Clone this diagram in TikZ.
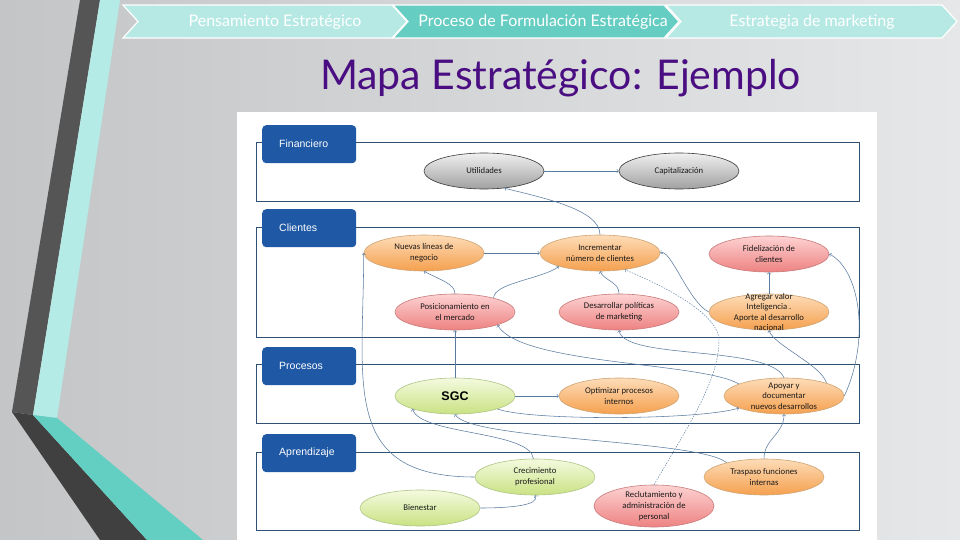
\documentclass[tikz,border=0pt]{standalone}
\usepackage{fontspec}
\setmainfont{Carlito}
\newfontfamily\latofont{Lato}
\newfontfamily\arialfont{Liberation Sans}
\usepackage{tikz}
\usetikzlibrary{shapes.geometric}

\definecolor{bgL}{HTML}{C3C5C6}
\definecolor{bgR}{HTML}{E6E7E8}
\definecolor{bandA}{HTML}{555555}
\definecolor{bandB}{HTML}{404040}
\definecolor{bandC}{HTML}{B4EBE6}
\definecolor{bandD}{HTML}{63CFC3}
\definecolor{crumbL}{HTML}{B6E9E4}
\definecolor{crumbD}{HTML}{66CDC2}
\definecolor{ttl}{HTML}{4A0E82}
\definecolor{tagblue}{HTML}{1F58A4}
\definecolor{laneline}{HTML}{2F5274}
\definecolor{conline}{HTML}{5A7CA0}
\definecolor{gry1}{HTML}{F0F0F0}
\definecolor{gry2}{HTML}{A0A0A0}
\definecolor{gryline}{HTML}{3A3A3A}
\definecolor{org1}{HTML}{FDDCB8}
\definecolor{org2}{HTML}{F5A04E}
\definecolor{orgline}{HTML}{CFA574}
\definecolor{pnk1}{HTML}{FDD2D2}
\definecolor{pnk2}{HTML}{EE8282}
\definecolor{pnkline}{HTML}{C97B7B}
\definecolor{grn1}{HTML}{F4FADF}
\definecolor{grn2}{HTML}{C9E283}
\definecolor{grnline}{HTML}{AEC684}

\begin{document}
\begin{tikzpicture}[x=1pt,y=-1pt,
  bub/.style={ellipse,minimum width=120pt,minimum height=36pt,inner sep=0pt,align=center,text=black!90,font=\fontsize{8.7}{11}\selectfont,line width=0.6pt},
  gry/.style={bub,draw=gryline,top color=gry1,bottom color=gry2},
  org/.style={bub,draw=orgline,top color=org1,bottom color=org2},
  pnk/.style={bub,draw=pnkline,top color=pnk1,bottom color=pnk2},
  grn/.style={bub,draw=grnline,top color=grn1,bottom color=grn2},
  lbl/.style={align=center,text=black!90,font=\fontsize{8.7}{10.5}\selectfont},
  tag/.style={rectangle,rounded corners=4pt,fill=tagblue,text=white,anchor=north west,minimum width=94pt,minimum height=38pt,text width=60pt,inner xsep=17pt,align=left,font=\arialfont\fontsize{10.5}{12}\selectfont},
  lane/.style={draw=laneline,line width=1pt},
  con/.style={->,draw=conline,line width=0.55pt},
  dsh/.style={con,dash pattern=on 1.5pt off 1.2pt,line width=0.45pt},
  crumb/.style={font=\latofont\fontsize{16}{18}\selectfont,text=white,anchor=base}]
\useasboundingbox (0,0) rectangle (960,540);
\shade[left color=bgL,right color=bgR] (0,0) rectangle (960,540);
\fill[bandA] (80,0) -- (100,0) -- (33,415) -- (12,412) -- cycle;
\fill[bandC] (100,0) -- (120,0) -- (57,418) -- (33,415) -- cycle;
\fill[bandB] (12,412) -- (33,415) -- (147,540) -- (100,540) -- cycle;
\fill[bandD] (33,415) -- (57,418) -- (203,540) -- (147,540) -- cycle;
\foreach \a/\b/\c in {123/392/crumbL,393/664/crumbD,666/942/crumbL} {
   \filldraw[fill=\c,draw=white,line width=1.2pt] (\a,5) -- (\b,5) -- (\b+15,21.5) -- (\b,38) -- (\a,38) -- (\a+15,21.5) -- cycle;
}
\node[crumb] (cr1) at (275,27) {Pensamiento Estratégico};
\node[crumb] (cr2) at (543,27) {Proceso de Formulación Estratégica};
\node[crumb] (cr3) at (812,27) {Estrategia de marketing};
\node[anchor=base,text=ttl,font=\latofont\fontsize{41}{48}\selectfont] (ttl) at (560.5,90) {Mapa Estratégico: Ejemplo};
\fill[white] (237,112) rectangle (877,540);
\draw[lane] (256,143) rectangle (859,201);
\draw[lane] (256,227) rectangle (859,337);
\draw[lane] (256,364) rectangle (859,423);
\draw[lane] (256,452) rectangle (859,530);
\node[tag] (fin) at (262,125) {Financiero};
\node[tag] (cli) at (262,209) {Clientes};
\node[tag] (pro) at (262,347) {Procesos};
\node[tag] (apr) at (262,434) {Aprendizaje};
\node[gry] (uti) at (484,171) {Utilidades};
\node[gry] (cap) at (679,171) {Capitalización};
\node[org] (nue) at (424,253) {Nuevas líneas de\\negocio};
\node[org] (inc) at (600,253) {Incrementar\\número de clientes};
\node[pnk] (fid) at (769,254) {Fidelización de\\clientes};
\node[pnk] (pos) at (455,312) {Posicionamiento en\\el mercado};
\node[pnk] (des) at (619,312) {Desarrollar políticas\\de marketing};
\node[org,label={[lbl,name=agrt]center:{Agregar valor\\Inteligencia .\\Aporte al desarrollo\\nacional}}] (agr) at (769,312) {};
\node[grn,font=\arialfont\bfseries\fontsize{12.5}{14}\selectfont,text=black] (sgc) at (455,396) {SGC};
\node[org] (opt) at (619,396) {Optimizar procesos\\internos};
\node[org,label={[lbl,name=apot]center:{Apoyar y\\documentar\\nuevos desarrollos}}] (apo) at (784,396) {};
\node[grn] (cre) at (535,477) {Crecimiento\\profesional};
\node[grn] (bie) at (420,508) {Bienestar};
\node[pnk,minimum height=42pt] (rec) at (654,506) {Reclutamiento y\\administración de\\personal};
\node[org] (tra) at (764,477) {Traspaso funciones\\internas};
\draw[con] (uti) -- (cap);
\draw[con] (inc.north) .. controls +(0,-25) and +(40,10) .. (uti.-40);
\draw[con] (nue) -- (inc);
\draw[con] (pos.north) .. controls +(0,-10) and +(15,8) .. (nue.south);
\draw[con] (pos.20) .. controls +(0,-15) and +(-15,12) .. (inc.-162);
\draw[con] (des.north) .. controls +(0,-12) and +(5,10) .. (inc.south);
\draw[con] (agr.west) .. controls +(-20,-10) and +(10,-5) .. (inc.east);
\draw[con] (agr) -- (fid);
\draw[con] (apo.east) .. controls +(26,-56) and +(31,16) .. (fid.east);
\draw[con] (apo.17) .. controls +(-5,-18) and +(5,15) .. (agr.south);
\coordinate (bnd) at (719,340);
\draw[dsh] (rec.north) .. controls +(35,-60) and +(0,40) .. (bnd) .. controls +(0,-20) and +(60,25) .. (inc.-34);
\draw[con] (cre.west) .. controls +(-135,0) and +(0,130) .. (nue.west);
\draw[con] (sgc) -- (pos);
\draw[con] (sgc) -- (opt);
\draw[con] (sgc.-17) .. controls +(33,12) and +(-40,12) .. (apo.-165);
\draw[con] (apo.north) .. controls +(-14,-33) and +(5,30) .. (des.south);
\draw[con] (apo.165) .. controls +(-38,-22) and +(23,40) .. (pos.-17);
\draw[con] (cre.95) .. controls +(-3,-28) and +(8,26) .. (sgc.-163);
\draw[con] (tra.159) .. controls +(-27,-23) and +(15,26) .. (sgc.south);
\draw[con] (tra.north) .. controls +(0,-20) and +(0,20) .. (apo.south);
\draw[con] (bie.east) .. controls +(30,0) and +(5,10) .. (cre.south);
\end{tikzpicture}
\end{document}
